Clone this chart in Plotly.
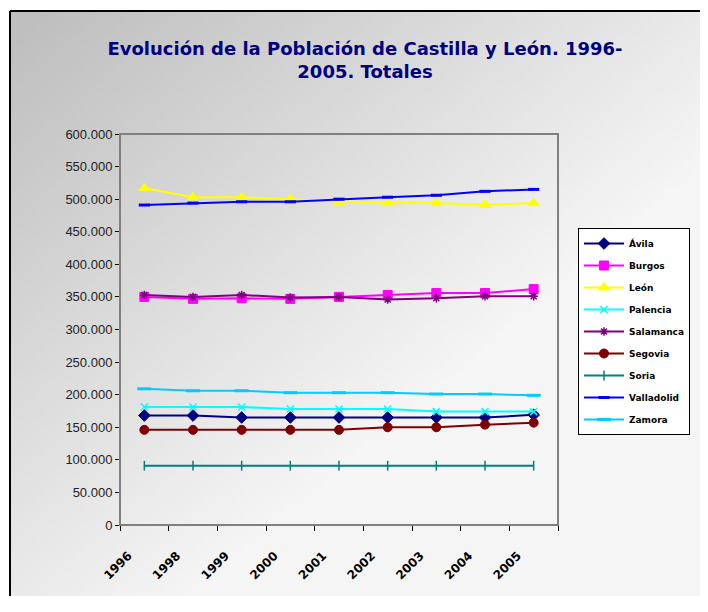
import base64, struct, zlib
import plotly.graph_objects as go

years = ["1996", "1998", "1999", "2000", "2001", "2002", "2003", "2004", "2005"]

avila = [168000, 168000, 165000, 165000, 165000, 165000, 165000, 165000, 169000]
burgos = [350000, 347000, 348000, 347000, 350000, 353000, 356000, 356000, 362000]
leon = [517000, 503000, 503000, 500000, 496000, 494000, 494000, 491000, 494000]
palencia = [181000, 181000, 181000, 178000, 178000, 178000, 174000, 174000, 174000]
salamanca = [353000, 350000, 353000, 349000, 350000, 346000, 348000, 351000, 351000]
segovia = [146000, 146000, 146000, 146000, 146000, 150000, 150000, 154000, 157000]
soria = [91000, 91000, 91000, 91000, 91000, 91000, 91000, 91000, 91000]
valladolid = [491000, 494000, 496000, 496000, 500000, 503000, 506000, 512000, 515000]
zamora = [209000, 206000, 206000, 203000, 203000, 203000, 201000, 201000, 199000]

y_ticks = [0, 50000, 100000, 150000, 200000, 250000, 300000, 350000, 400000,
           450000, 500000, 550000, 600000]

series = [
    ("Ávila", avila, "#000080", "diamond", 9, 1),
    ("Burgos", burgos, "#ff00ff", "square", 9, 1),
    ("León", leon, "#ffff00", "triangle-up", 10, 1),
    ("Palencia", palencia, "#00ffff", "x-thin-open", 7, 1.5),
    ("Salamanca", salamanca, "#800080", "asterisk-open", 7, 1.5),
    ("Segovia", segovia, "#800000", "circle", 9, 1),
    ("Soria", soria, "#008080", "line-ns-open", 7, 1.5),
    ("Valladolid", valladolid, "#0000ff", "line-ew-open", 8, 3),
    ("Zamora", zamora, "#00ccff", "line-ew-open", 10, 3),
]


def gradient_png(w, h):
    rows = b""
    for j in range(h):
        row = b"\x00"
        for i in range(w):
            t = (i / (w - 1) + j / (h - 1)) / 2
            v = int(190 + (245 - 190) * min(1.0, t / 0.62))
            row += bytes([v, v, v])
        rows += row

    def chunk(tag, data):
        c = struct.pack(">I", len(data)) + tag + data
        return c + struct.pack(">I", zlib.crc32(tag + data) & 0xffffffff)

    png = b"\x89PNG\r\n\x1a\n"
    png += chunk(b"IHDR", struct.pack(">IIBBBBB", w, h, 8, 2, 0, 0, 0))
    png += chunk(b"IDAT", zlib.compress(rows))
    png += chunk(b"IEND", b"")
    return "data:image/png;base64," + base64.b64encode(png).decode()


fig = go.Figure()
for name, vals, color, sym, size, mlw in series:
    fig.add_trace(go.Scatter(
        x=years, y=vals, name=name, mode="lines+markers",
        line=dict(color=color, width=2),
        marker=dict(symbol=sym, size=size, color=color,
                    line=dict(color=color, width=mlw)),
        legendgroup=name,
    ))

# page body has an 8px margin; figure coords = screen coords - 8
OFF = 8
W, H = 708 - OFF, 612 - 3 * OFF
L, R, T, B = 120 - OFF, 558 - OFF, 134 - OFF, 525 - OFF
pw, ph = R - L, B - T


def px(x):
    return (x - OFF - L) / pw


def py(y):
    return (B - (y - OFF)) / ph


fig.update_layout(
    width=W, height=H,
    margin=dict(l=L, r=W - R, t=T, b=H - B, autoexpand=False),
    paper_bgcolor="#f5f5f5",
    plot_bgcolor="#ffffcc",
    separators=",.",
    font=dict(family="Arial, Liberation Sans", color="black", size=12),
    title=dict(
        text="<b>Evolución de la Población de Castilla y León. 1996-<br>2005. Totales</b>",
        x=(365 - OFF) / W, xref="container", xanchor="center",
        y=1 - (55 - OFF) / H, yref="container", yanchor="middle",
        font=dict(family="DejaVu Sans", size=18, color="#000080"),
    ),
    xaxis=dict(
        type="category", tickson="boundaries", ticks="outside", ticklen=5,
        tickcolor="black", showline=True, linecolor="black", linewidth=1,
        tickangle=-45, showgrid=False, ticklabelstandoff=18,
        ticklabelshift=-16,
        tickfont=dict(family="DejaVu Sans", size=12, color="black", weight="bold"),
        range=[-0.5, 8.5],
    ),
    yaxis=dict(
        range=[0, 600000], tickvals=y_ticks, tickformat=",d",
        ticks="outside", ticklen=4, tickcolor="black",
        showline=True, linecolor="black", linewidth=1, showgrid=False,
        zeroline=False,
        tickfont=dict(family="Arial, Liberation Sans", size=13, color="#222222"),
    ),
    legend=dict(
        x=px(578), y=py(228), xanchor="left", yanchor="top",
        bgcolor="white", bordercolor="black", borderwidth=1,
        font=dict(family="DejaVu Sans", size=9, color="black", weight="bold"),
        tracegroupgap=3, itemwidth=40,
    ),
    showlegend=True,
    images=[dict(
        source=gradient_png(70, 61), xref="paper", yref="paper",
        x=px(10), y=py(11), sizex=(W + OFF - 10) / pw, sizey=(H + OFF - 11) / ph,
        xanchor="left", yanchor="top", sizing="stretch", layer="below",
    )],
    shapes=[
        dict(type="rect", xref="paper", yref="paper", x0=px(0), x1=px(W + OFF),
             y0=py(0), y1=py(11), fillcolor="white", line=dict(width=0),
             layer="below"),
        dict(type="rect", xref="paper", yref="paper", x0=px(0), x1=px(10),
             y0=py(0), y1=py(H + OFF), fillcolor="white", line=dict(width=0),
             layer="below"),
        dict(type="line", xref="paper", yref="paper", x0=px(10), x1=px(W + OFF),
             y0=py(11), y1=py(11), line=dict(color="black", width=2)),
        dict(type="line", xref="paper", yref="paper", x0=px(10), x1=px(10),
             y0=py(11), y1=py(H + OFF), line=dict(color="black", width=2)),
        dict(type="rect", xref="paper", yref="paper", x0=0, x1=1, y0=0, y1=1,
             line=dict(color="#808080", width=2), layer="above"),
    ],
)

fig.write_html("out.html", config={"displayModeBar": False})
